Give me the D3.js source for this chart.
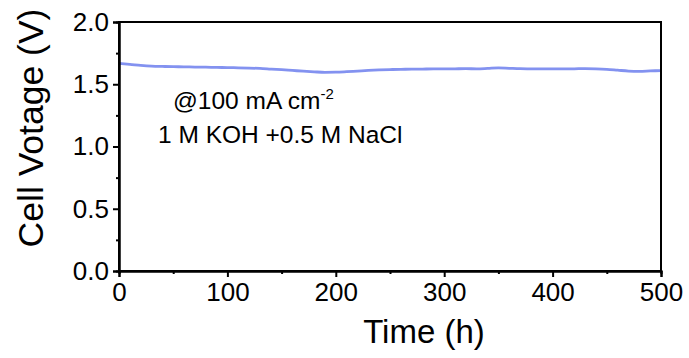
<!DOCTYPE html>
<html>
<head>
<meta charset="utf-8">
<script src="https://cdn.jsdelivr.net/npm/d3@7"></script>
<style>
  html, body { margin: 0; padding: 0; background: #fff; }
  svg { display: block; font-family: "Liberation Sans", Arial, sans-serif; }
</style>
</head>
<body>
<svg id="chart" width="689" height="358"></svg>
<script>
// Long-term chronopotentiometry at 100 mA cm-2
const timeHours = [0, 10, 20, 30, 40, 50, 60, 70, 80, 90,
  100, 110, 120, 130, 140, 150, 160, 170, 180, 190,
  200, 210, 220, 230, 240, 250, 260, 270, 280, 290,
  300, 310, 320, 330, 340, 350, 360, 370, 380, 390,
  400, 410, 420, 430, 440, 450, 460, 470, 480, 490, 500];
const cellVoltage = [1.667, 1.660, 1.652, 1.646, 1.643, 1.641, 1.640, 1.638, 1.637, 1.635,
  1.634, 1.632, 1.630, 1.627, 1.622, 1.617, 1.611, 1.605, 1.600, 1.596,
  1.597, 1.601, 1.606, 1.611, 1.615, 1.618, 1.620, 1.621, 1.622, 1.623,
  1.623, 1.624, 1.625, 1.624, 1.627, 1.631, 1.628, 1.625, 1.624, 1.623,
  1.624, 1.623, 1.624, 1.626, 1.624, 1.620, 1.613, 1.606, 1.604, 1.607, 1.610];
const xTicks = [0, 100, 200, 300, 400, 500];
const xMinor = [50, 150, 250, 350, 450];
const yTicks = [0, 0.5, 1.0, 1.5, 2.0];
const yMinor = [0.25, 0.75, 1.25, 1.75];

const svg = d3.select("#chart");
const plotLeft = 119, plotRight = 661, plotTop = 22, plotBottom = 271;

const x = d3.scaleLinear().domain([0, 500]).range([plotLeft, plotRight]);
const y = d3.scaleLinear().domain([0, 2.0]).range([plotBottom, plotTop]);

// data trace
const line = d3.line().x((d, i) => x(timeHours[i])).y(d => y(d)).curve(d3.curveMonotoneX);
svg.append("path")
  .datum(cellVoltage)
  .attr("d", line)
  .attr("fill", "none")
  .attr("stroke", "#8392f0")
  .attr("stroke-width", 2.8);

// frame
svg.append("rect")
  .attr("x", plotLeft).attr("y", plotTop)
  .attr("width", plotRight - plotLeft).attr("height", plotBottom - plotTop)
  .attr("fill", "none").attr("stroke", "#000").attr("stroke-width", 2);

// axes
const xAxis = svg.append("g").attr("transform", `translate(0,${plotBottom})`)
  .call(d3.axisBottom(x).tickValues(xTicks).tickFormat(d3.format("d")).tickSize(6).tickPadding(6));
const xMinorAxis = svg.append("g").attr("transform", `translate(0,${plotBottom})`)
  .call(d3.axisBottom(x).tickValues(xMinor).tickFormat("").tickSize(3));
const yAxis = svg.append("g").attr("transform", `translate(${plotLeft},0)`)
  .call(d3.axisLeft(y).tickValues(yTicks).tickFormat(d3.format(".1f")).tickSize(6).tickPadding(4));
const yMinorAxis = svg.append("g").attr("transform", `translate(${plotLeft},0)`)
  .call(d3.axisLeft(y).tickValues(yMinor).tickFormat("").tickSize(3));

[xAxis, xMinorAxis, yAxis, yMinorAxis].forEach(g => {
  g.select(".domain").attr("stroke", "#000").attr("stroke-width", 2);
  g.selectAll(".tick line").attr("stroke", "#000").attr("stroke-width", 2);
  g.selectAll(".tick text")
    .attr("fill", "#000")
    .style("font-family", "'Liberation Sans', Arial, sans-serif")
    .style("font-size", "26px");
});

// axis titles
svg.append("text")
  .attr("x", 424).attr("y", 343)
  .attr("text-anchor", "middle")
  .style("font-size", "33px")
  .text("Time (h)");

svg.append("text")
  .attr("transform", "translate(43,128) rotate(-90)")
  .attr("text-anchor", "middle")
  .style("font-size", "35.5px")
  .text("Cell Votage (V)");

// annotations
const note1 = svg.append("text")
  .attr("x", 173).attr("y", 109)
  .style("font-size", "24.5px");
note1.append("tspan").text("@100 mA cm");
note1.append("tspan").attr("dy", -10).style("font-size", "15px").text("-2");

svg.append("text")
  .attr("x", 158).attr("y", 143)
  .style("font-size", "24.5px")
  .text("1 M KOH +0.5 M NaCl");
</script>
</body>
</html>
